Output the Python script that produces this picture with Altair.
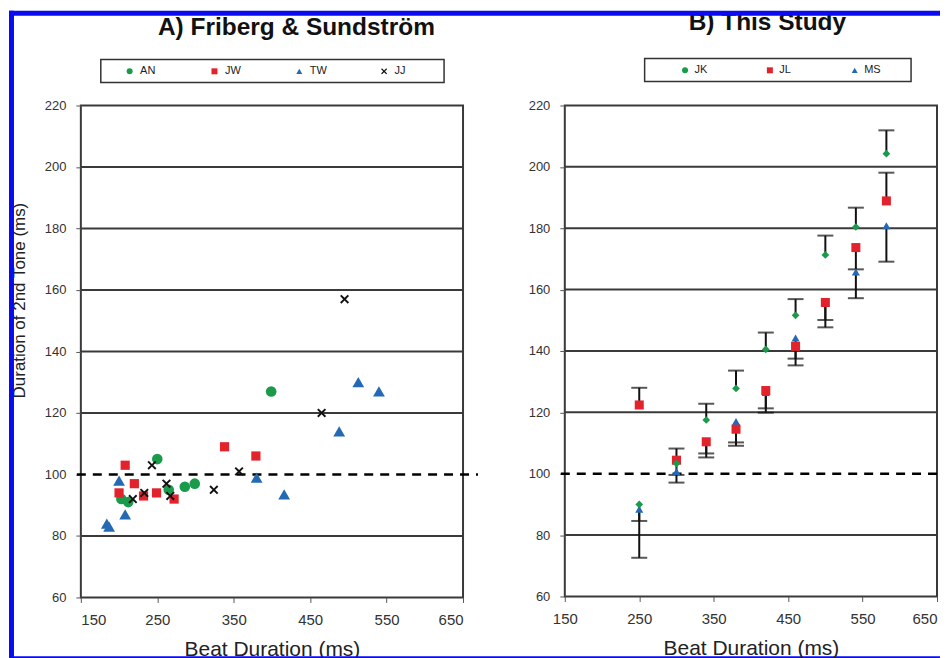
import altair as alt
import pandas as pd

# ---------------- data ----------------
title_a = "A) Friberg & Sundström"
title_b = "B) This Study"

# Panel A: Friberg & Sundström (beat duration ms, duration of 2nd tone ms)
an_x = [203, 212, 250, 265, 286, 299, 399]
an_y = [92, 91, 105, 95, 96, 97, 127]
jw_x = [200, 208, 220, 232, 249, 272, 338, 379]
jw_y = [94, 103, 97, 93, 94, 92, 109, 106]
tw_x = [184, 187, 200, 208, 380, 416, 488, 513, 540]
tw_y = [84, 83, 98, 87, 99, 93.5, 114, 130, 127]
jj_x = [218, 233, 243, 262, 267, 324, 357, 465, 495]
jj_y = [92, 94, 103, 97, 93, 95, 101, 120, 157]

# Panel B: This Study
beat_b = [250, 300, 340, 380, 420, 460, 500, 541, 582]
jk_y = [90.0, 103.3, 117.5, 127.8, 140.5, 151.6, 171.3, 180.4, 204.3]
jk_err = [84.6, 99.6, 122.8, 133.6, 146.0, 156.9, 177.6, 186.7, 211.9]
jl_y = [122.4, 104.4, 110.4, 114.5, 127.1, 141.5, 155.8, 173.7, 188.9]
jl_err = [128.0, 108.2, 106.6, 110.2, 121.3, 137.5, 150.1, 166.6, 198.1]
ms_y = [88.4, 100.7, 110.5, 117.0, 126.5, 144.2, 155.5, 165.7, 180.8]
ms_err = [72.6, 97.1, 105.3, 109.1, 119.9, 135.3, 147.7, 157.2, 169.1]

series_a = ["AN", "JW", "TW", "JJ"]
series_b = ["JK", "JL", "MS"]
x_ticks = [150, 250, 350, 450, 550, 650]
y_ticks = [60, 80, 100, 120, 140, 160, 180, 200, 220]
grid_levels = [80, 120, 140, 160, 180, 200]
ref_level = [100]

# ---------------- style ----------------
FONT = "Liberation Sans"
GREEN, RED, BLUE_S, BLACK = "#1a9b4b", "#e3232c", "#2469b3", "#111111"
FRAME_BLUE = "#0b0bf2"
GRID = "#3a3a3a"
XPATH = "M-1,-0.7L-0.7,-1L0,-0.3L0.7,-1L1,-0.7L0.3,0L1,0.7L0.7,1L0,0.3L-0.7,1L-1,0.7L-0.3,0Z"
WA, WB, H = 383, 373, 493
PADCH = "\u2800"

# ---------------- tables ----------------
rows_a = []
for name, xs_, ys_, sz in [("AN", an_x, an_y, 113), ("JW", jw_x, jw_y, 85),
                            ("TW", tw_x, tw_y, 140), ("JJ", jj_x, jj_y, 81)]:
    for xv, yv in zip(xs_, ys_):
        rows_a.append({"x": xv, "y": yv, "series": name, "sz": sz})
df_a = pd.DataFrame(rows_a)

rows_b, rows_err = [], []
for name, ys_, es_, sz in [("MS", ms_y, ms_err, 66), ("JL", jl_y, jl_err, 82),
                            ("JK", jk_y, jk_err, 60)]:
    for xv, yv, ev in zip(beat_b, ys_, es_):
        rows_b.append({"x": xv, "y": yv, "series": name, "sz": sz})
        rows_err.append({"x": xv, "y": yv, "y2": ev})
df_b = pd.DataFrame(rows_b)
df_err = pd.DataFrame(rows_err)
df_grid = pd.DataFrame({"v": grid_levels})
df_ref = pd.DataFrame({"v": ref_level})

xsc = alt.Scale(domain=[150, 650], nice=False, zero=False)
ysc = alt.Scale(domain=[60, 220], nice=False, zero=False)

xaxis_a = alt.Axis(values=x_ticks, title="Beat Duration (ms)", titleY=58,
                   titleBaseline="alphabetic", titleFontSize=21, titleFont=FONT,
                   titleFontWeight="normal", titleColor="#222")
xaxis_b = alt.Axis(values=x_ticks, title="Beat Duration (ms)", titleY=58,
                   titleBaseline="alphabetic", titleFontSize=21, titleFont=FONT,
                   titleFontWeight="normal", titleColor="#222",
                   labelAlign=alt.condition("datum.value >= 650", alt.value("right"), alt.value("center")))
yaxis_a = alt.Axis(values=y_ticks, title="Duration of 2nd Tone (ms)",
                   titleX=-61.5, titleY=195, titleAngle=270, titleAlign="center",
                   titleBaseline="middle", titleFontSize=17, titleFont=FONT,
                   titleFontWeight="normal", titleColor="#222")
yaxis_b = alt.Axis(values=y_ticks, title=None)


def legend(n_pad_left, title_pad, col_pad, n_trail, label_off, lx, ly):
    return alt.Legend(
        orient="none", legendX=lx, legendY=ly, direction="horizontal",
        title=PADCH * n_pad_left, titleOrient="left", titlePadding=title_pad,
        titleFontSize=11, titleFont=FONT,
        strokeColor="#333", fillColor="white", padding=6,
        labelFont=FONT, labelFontSize=11, labelColor="#222", labelOffset=label_off,
        labelExpr="datum.label + '" + PADCH * n_trail + "'",
        symbolSize=36, symbolStrokeWidth=0, gridAlign="all",
        columnPadding=col_pad,
    )


leg_a = legend(1, 9.4, 19, 4, 5, 20, -46)
leg_b = legend(3, 5, 29, 3, 4, 80, -47)

one = alt.Data(values=[{"k": 1}])
# decorative blue frame around the figure (page edges)
frame_left = alt.Chart(one).mark_rect(color=FRAME_BLUE).encode(
    x=alt.value(-72), x2=alt.value(-67), y=alt.value(-95), y2=alt.value(557))
frame_bottom = alt.Chart(one).mark_rect(color=FRAME_BLUE).encode(
    x=alt.value(-72), x2=alt.value(861), y=alt.value(552), y2=alt.value(557))
frame_top_b = alt.Chart(one).mark_rect(color=FRAME_BLUE).encode(
    x=alt.value(-557), x2=alt.value(376), y=alt.value(-95), y2=alt.value(-90))

title_mark_a = alt.Chart(alt.Data(values=[{"t": title_a}])).mark_text(
    font=FONT, fontSize=24.5, fontWeight="bold", color="#111", baseline="top", align="center"
).encode(text="t:N", x=alt.value(216), y=alt.value(-90))
title_mark_b = alt.Chart(alt.Data(values=[{"t": title_b}])).mark_text(
    font=FONT, fontSize=24.5, fontWeight="bold", color="#111", baseline="top", align="center"
).encode(text="t:N", x=alt.value(203), y=alt.value(-94.5))


def grid_layer(yaxis):
    return alt.Chart(df_grid).mark_rule(color=GRID, strokeWidth=2).encode(
        y=alt.Y("v:Q", scale=ysc, axis=yaxis))


def ref_layer(yaxis, x2):
    return alt.Chart(df_ref).mark_rule(color="#000", strokeWidth=2.5, strokeDash=[9, 7]).encode(
        y=alt.Y("v:Q", scale=ysc, axis=yaxis), x=alt.value(-4), x2=alt.value(x2))


pts_a = alt.Chart(df_a).mark_point(filled=True, opacity=1, strokeWidth=0).encode(
    x=alt.X("x:Q", scale=xsc, axis=xaxis_a),
    y=alt.Y("y:Q", scale=ysc, axis=yaxis_a),
    color=alt.Color("series:N", scale=alt.Scale(domain=series_a, range=[GREEN, RED, BLUE_S, BLACK]),
                    legend=leg_a),
    shape=alt.Shape("series:N", scale=alt.Scale(domain=series_a,
                                                range=["circle", "square", "triangle-up", XPATH]),
                    legend=leg_a),
    size=alt.Size("sz:Q", scale=None),
)

panel_a = alt.layer(
    frame_left, frame_bottom, title_mark_a,
    grid_layer(yaxis_a), ref_layer(yaxis_a, WA + 15), pts_a,
).properties(width=WA, height=H)

color_b = alt.Color("series:N", scale=alt.Scale(domain=series_b, range=[GREEN, RED, BLUE_S]),
                    legend=leg_b)
err_rule = alt.Chart(df_err).mark_rule(color=BLACK, strokeWidth=2).encode(
    x=alt.X("x:Q", scale=xsc, axis=xaxis_b),
    y=alt.Y("y:Q", scale=ysc, axis=yaxis_b),
    y2="y2:Q")
err_cap = alt.Chart(df_err).mark_tick(orient="horizontal", color=BLACK, size=16, thickness=2).encode(
    x=alt.X("x:Q", scale=xsc, axis=xaxis_b),
    y=alt.Y("y2:Q", scale=ysc, axis=yaxis_b))
pts_b_other = alt.Chart(df_b).transform_filter("datum.series != 'JK'").mark_point(
    filled=True, opacity=1, strokeWidth=0).encode(
    x=alt.X("x:Q", scale=xsc, axis=xaxis_b),
    y=alt.Y("y:Q", scale=ysc, axis=yaxis_b),
    color=color_b,
    shape=alt.Shape("series:N", scale=alt.Scale(domain=series_b,
                                                range=["circle", "square", "triangle-up"]),
                    legend=leg_b),
    size=alt.Size("sz:Q", scale=None),
)
pts_b_jk = alt.Chart(df_b).transform_filter("datum.series == 'JK'").mark_point(
    filled=True, opacity=1, strokeWidth=0, shape="diamond").encode(
    x=alt.X("x:Q", scale=xsc, axis=xaxis_b),
    y=alt.Y("y:Q", scale=ysc, axis=yaxis_b),
    color=color_b,
    size=alt.Size("sz:Q", scale=None),
)

panel_b = alt.layer(
    title_mark_b, grid_layer(yaxis_b), ref_layer(yaxis_b, WB), err_rule, err_cap,
    pts_b_other, pts_b_jk, frame_top_b,
).properties(width=WB, height=H - 1)

chart = alt.hconcat(panel_a, panel_b, spacing=102, bounds="flush").resolve_scale(
    color="independent", shape="independent"
).resolve_legend(color="independent", shape="independent").properties(
    padding=0
).configure_view(
    stroke=GRID, strokeWidth=2
).configure_axis(
    domain=False, grid=False, ticks=True, tickColor="#555", tickSize=5, tickWidth=1,
    labelFont=FONT, labelColor="#333", labelPadding=10,
).configure_axisX(labelFontSize=15).configure_axisY(labelFontSize=13).configure_legend(strokeWidth=1.5)

chart.save("out.html", embed_options={"renderer": "svg", "actions": False})
